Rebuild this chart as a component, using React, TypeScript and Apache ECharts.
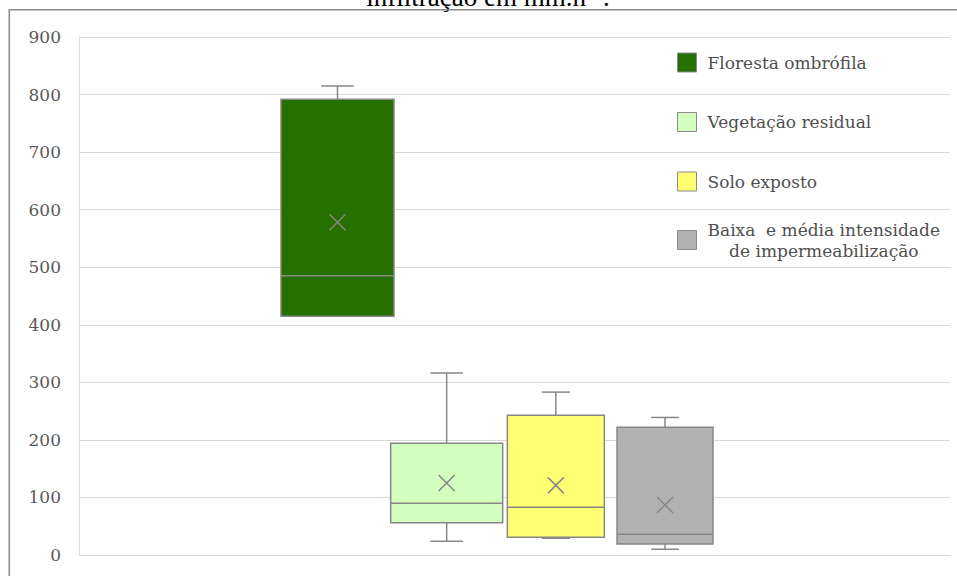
import React, { useEffect, useRef } from "react";
import * as echarts from "echarts";

// ---- data ----
const categories = [
  "Floresta ombrófila",
  "Vegetação residual",
  "Solo exposto",
  "Baixa  e média intensidade\n    de impermeabilização",
];
// [min, q1, median, q3, max, mean]
const florestaStats = [415, 415, 485, 792, 815, 578];
const vegetacaoStats = [24, 56, 90, 194, 316, 125];
const soloStats = [29, 31, 83, 243, 283, 121];
const baixaStats = [10, 19, 36, 222, 239, 87];
const yTicks = [0, 900, 100]; // min, max, interval
const titleText = "infiltração em mm.h⁻¹.";

// ---- styles ----
const fills = ["#267000", "#D2FFBE", "#FFFF73", "#B2B2B2"];
const boxWidths = [113, 112, 97, 96];
const strokeGray = "#878787";
const serif = '"DejaVu Serif", serif';

const allStats = [florestaStats, vegetacaoStats, soloStats, baixaStats];

export default function App() {
  const ref = useRef<HTMLDivElement>(null);

  useEffect(() => {
    if (!ref.current) return;
    const chart = echarts.init(ref.current, undefined, { renderer: "svg" });

    const renderItem = (params: any, api: any) => {
      const idx = api.value(0);
      const vals = [1, 2, 3, 4, 5, 6].map((d) => api.value(d));
      const pt = (v: number) => api.coord([idx, v]);
      const cx = pt(vals[0])[0];
      const yMin = pt(vals[0])[1];
      const yQ1 = pt(vals[1])[1];
      const yMed = pt(vals[2])[1];
      const yQ3 = pt(vals[3])[1];
      const yMax = pt(vals[4])[1];
      const yMean = pt(vals[5])[1];
      const w = boxWidths[idx];
      const capW = w * 0.29;
      const ls = { stroke: strokeGray, lineWidth: 1.5 };
      const m = 8;
      const children: any[] = [];
      if (yMax < yQ3 - 0.5) {
        children.push({ type: "line", shape: { x1: cx, y1: yMax, x2: cx, y2: yQ3 }, style: ls });
        children.push({ type: "line", shape: { x1: cx - capW / 2, y1: yMax, x2: cx + capW / 2, y2: yMax }, style: ls });
      }
      if (yMin > yQ1 + 0.5) {
        children.push({ type: "line", shape: { x1: cx, y1: yQ1, x2: cx, y2: yMin }, style: ls });
        children.push({ type: "line", shape: { x1: cx - capW / 2, y1: yMin, x2: cx + capW / 2, y2: yMin }, style: ls });
      }
      children.push({
        type: "rect",
        shape: { x: cx - w / 2, y: yQ3, width: w, height: yQ1 - yQ3 },
        style: { fill: fills[idx], stroke: strokeGray, lineWidth: 1.5 },
      });
      children.push({ type: "line", shape: { x1: cx - w / 2, y1: yMed, x2: cx + w / 2, y2: yMed }, style: ls });
      children.push({ type: "line", shape: { x1: cx - m, y1: yMean - m, x2: cx + m, y2: yMean + m }, style: ls });
      children.push({ type: "line", shape: { x1: cx - m, y1: yMean + m, x2: cx + m, y2: yMean - m }, style: ls });
      return { type: "group", children };
    };

    const series = categories.map((name, i) => ({
      name,
      type: "custom",
      xAxisIndex: 1,
      yAxisIndex: 1,
      itemStyle: { color: fills[i] },
      encode: { x: 0, y: [1, 2, 3, 4, 5, 6] },
      data: [[i, ...allStats[i]]],
      renderItem,
    }));

    const legendBase = {
      orient: "vertical",
      left: 672,
      icon: "rect",
      itemWidth: 19,
      itemHeight: 19,
      itemGap: 38.5,
      itemStyle: { borderColor: "#8a8a8a", borderWidth: 1 },
      textStyle: {
        color: "#4f4f4f",
        fontFamily: serif,
        fontSize: 17,
        lineHeight: 21,
        padding: [0, 0, 0, 6],
      },
    };

    chart.setOption({
      animation: false,
      backgroundColor: "#ffffff",
      grid: [
        { left: 79, right: 7, top: 37, bottom: 21 },
        { left: 282.9, right: 237.4, top: 37, bottom: 21 },
      ],
      xAxis: [
        { type: "value", gridIndex: 0, show: false, min: 0, max: 1 },
        { type: "category", gridIndex: 1, show: false, data: categories },
      ],
      yAxis: [
        {
          type: "value",
          gridIndex: 0,
          min: yTicks[0],
          max: yTicks[1],
          interval: yTicks[2],
          axisLine: { show: true, lineStyle: { color: "#d9d9d9", width: 1 } },
          axisTick: { show: false },
          axisLabel: { color: "#595959", fontFamily: serif, fontSize: 17, margin: 18 },
          splitLine: { show: true, lineStyle: { color: "#d9d9d9", width: 1 } },
        },
        { type: "value", gridIndex: 1, show: false, min: yTicks[0], max: yTicks[1] },
      ],
      legend: [
        { ...legendBase, top: 47, data: categories.slice(0, 3) },
        { ...legendBase, top: 214, data: categories.slice(3) },
      ],
      graphic: [
        {
          type: "text",
          x: 488,
          y: -3,
          silent: true,
          style: {
            text: titleText,
            font: '27px "Liberation Serif", serif',
            fill: "#000",
            align: "center",
            verticalAlign: "middle",
          },
        },
        {
          type: "line",
          shape: { x1: 9, y1: 9.8, x2: 957, y2: 9.8 },
          style: { stroke: "#8c8c8c", lineWidth: 1.6 },
        },
        {
          type: "line",
          shape: { x1: 9.3, y1: 9, x2: 9.3, y2: 576 },
          style: { stroke: "#8c8c8c", lineWidth: 1.6 },
        },
      ],
      series,
    });

    return () => chart.dispose();
  }, []);

  return (
    <div
      ref={ref}
      style={{ position: "fixed", left: 0, top: 0, width: 957, height: 576 }}
    />
  );
}
